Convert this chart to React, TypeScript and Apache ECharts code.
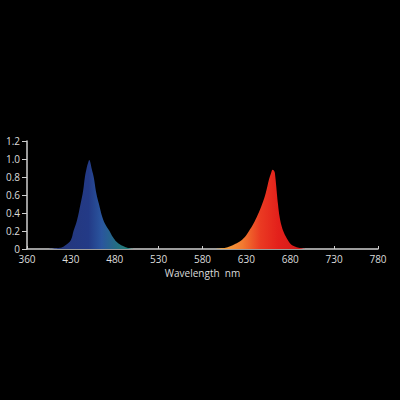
import * as echarts from "echarts";
import { useEffect, useRef } from "react";

// x axis tick labels as printed on the original (first one reads 360)
const X_TICK_LABELS = ["360", "430", "480", "530", "580", "630", "680", "730", "780"];

const BLUE_NM = [405, 415, 420, 425, 430, 433, 437, 441, 444, 446, 448, 450, 451, 452, 454, 456, 459, 462, 466, 470, 474, 478, 482, 486, 490, 495, 500, 505];
const BLUE_VAL = [0, 0.01, 0.02, 0.05, 0.1, 0.2, 0.32, 0.5, 0.65, 0.8, 0.9, 0.97, 0.99, 0.97, 0.88, 0.8, 0.62, 0.5, 0.35, 0.26, 0.2, 0.13, 0.08, 0.05, 0.03, 0.012, 0.003, 0];

const RED_NM = [595, 600, 605, 610, 616, 622, 628, 633, 638, 643, 648, 652, 656, 658, 660, 662, 663, 664, 666, 668, 670, 672, 676, 681, 686, 691, 697];
const RED_VAL = [0, 0.005, 0.01, 0.025, 0.05, 0.08, 0.13, 0.2, 0.28, 0.38, 0.5, 0.62, 0.78, 0.84, 0.88, 0.86, 0.8, 0.7, 0.5, 0.35, 0.26, 0.2, 0.12, 0.05, 0.025, 0.01, 0];

const FONT = "'Open Sans', sans-serif";
const TEXT = "#dcdcdc";
const AXIS = "#cfcfcf";

function pairs(xs: number[], ys: number[]): [number, number][] {
  return xs.map((x, i) => [x, ys[i]]);
}

export default function App() {
  const ref = useRef<HTMLDivElement>(null);

  useEffect(() => {
    if (!ref.current) return;
    const chart = echarts.init(ref.current, null, { renderer: "svg" });

    const option: echarts.EChartsOption = {
      animation: false,
      backgroundColor: "#000",
      grid: { left: 27, right: 22, top: 141, bottom: 151 },
      xAxis: {
        type: "value",
        min: 380,
        max: 780,
        interval: 50,
        name: "Wavelength  nm",
        nameLocation: "middle",
        nameGap: 19,
        nameTextStyle: { color: TEXT, fontSize: 10, fontFamily: FONT, lineHeight: 10 },
        axisLine: { lineStyle: { color: AXIS, width: 1.5 } },
        axisTick: { inside: true, length: 3, lineStyle: { color: AXIS } },
        splitLine: { show: false },
        axisLabel: {
          color: TEXT,
          fontSize: 10,
          fontFamily: FONT,
          lineHeight: 10,
          margin: 5,
          formatter: (v: number) => X_TICK_LABELS[Math.round((v - 380) / 50)] ?? "",
        },
      },
      yAxis: {
        type: "value",
        min: 0,
        max: 1.2,
        interval: 0.2,
        axisLine: { show: true, lineStyle: { color: AXIS, width: 1.5 } },
        axisTick: { show: true, length: 5, lineStyle: { color: AXIS } },
        splitLine: { show: false },
        axisLabel: {
          color: TEXT,
          fontSize: 10,
          fontFamily: FONT,
          lineHeight: 10,
          margin: 7,
          formatter: (v: number) => (v === 0 ? "0" : v.toFixed(1)),
        },
      },
      series: [
        {
          type: "line",
          data: pairs(BLUE_NM, BLUE_VAL),
          smooth: 0.4,
          showSymbol: false,
          lineStyle: { width: 0 },
          areaStyle: {
            opacity: 1,
            color: new echarts.graphic.LinearGradient(0, 0, 1, 0, [
              { offset: 0, color: "#253678" },
              { offset: 0.45, color: "#233a86" },
              { offset: 0.6, color: "#2a559e" },
              { offset: 0.8, color: "#23727f" },
              { offset: 1, color: "#1e8a78" },
            ]),
          },
        },
        {
          type: "line",
          data: pairs(RED_NM, RED_VAL),
          smooth: 0.4,
          showSymbol: false,
          lineStyle: { width: 0 },
          areaStyle: {
            opacity: 1,
            color: new echarts.graphic.LinearGradient(0, 0, 1, 0, [
              { offset: 0, color: "#f7b444" },
              { offset: 0.3, color: "#f27a30" },
              { offset: 0.5, color: "#ea3a22" },
              { offset: 0.7, color: "#e3201b" },
              { offset: 1, color: "#d01818" },
            ]),
          },
        },
      ],
    };
    chart.setOption(option);
    return () => chart.dispose();
  }, []);

  return (
    <div style={{ position: "fixed", inset: 0, background: "#000" }}>
      <div ref={ref} style={{ width: 400, height: 400 }} />
    </div>
  );
}
